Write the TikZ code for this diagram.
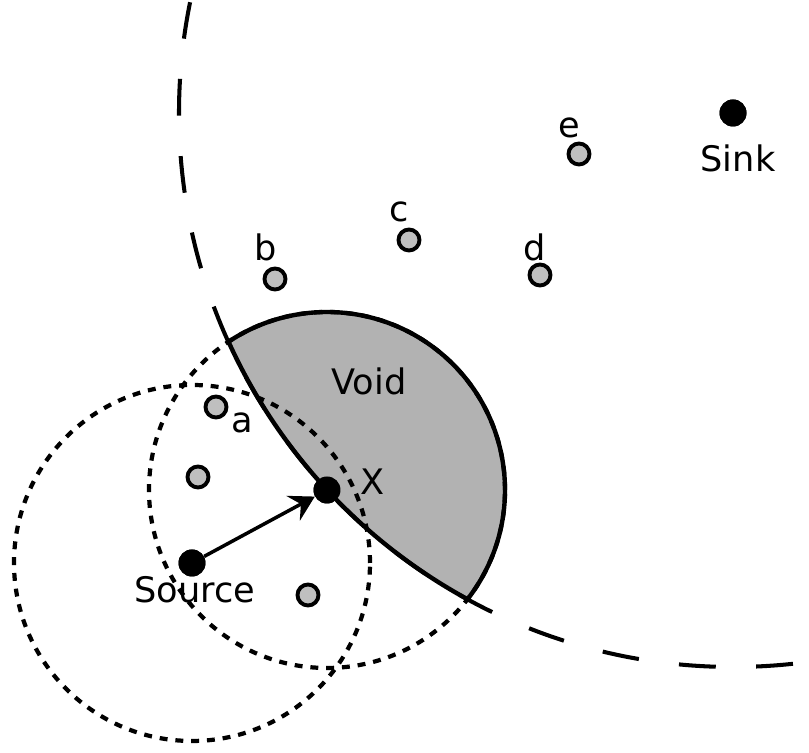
\documentclass[tikz,border=0pt]{standalone}
\usepackage{fontspec}
\setmainfont{DejaVu Sans}
\usetikzlibrary{arrows.meta}

\begin{document}
\begin{tikzpicture}[x=0.02cm,y=0.02cm,
  hop/.style={circle,draw,fill=black!25,line width=2.2pt,minimum size=0.42cm,inner sep=0pt},
  dot/.style={circle,fill=black,minimum size=0.54cm,inner sep=0pt},
  lbl/.style={font=\fontsize{20}{24}\selectfont,inner sep=0pt},
  txrange/.style={line width=2.4pt,dash pattern=on 4.5pt off 4.5pt},
  arr/.style={-{Stealth[length=14pt,width=16pt,inset=5pt]},line width=2pt}]
\useasboundingbox (0,0) rectangle (809,753);
% forwarding node, source and sink
\node[dot] (src) at (192,190) {};
\node[dot] (X) at (327,263) {};
\node[dot] (sink) at (733,640) {};
% void: part of the range of X nearer to the sink than X
\fill[black!30] (X.center) ++(-37.9:178) arc[start angle=-37.9,end angle=123.6,radius=178]
  arc[start angle=204.38,end angle=241.37,radius=554] -- cycle;
\draw[txrange] (src.center) circle[radius=178];
\draw[txrange] (X.center) circle[radius=178];
\draw[line width=2.5pt] (X.center) ++(-37.9:178) arc[start angle=-37.9,end angle=123.6,radius=178]
  arc[start angle=204.38,end angle=241.37,radius=554];
\begin{scope}
  \clip (0,0) rectangle (809,753);
  \draw[line width=2.3pt,dash pattern=on 21pt off 23pt,dash phase=40.7pt] (sink.center) circle[radius=554];
\end{scope}
% neighbours
\node[hop] (a) at (216,346) {};
\node[hop] (n1) at (198,276) {};
\node[hop] (n2) at (308,158) {};
\node[hop] (b) at (275,474) {};
\node[hop] (c) at (409,513) {};
\node[hop] (d) at (540,478) {};
\node[hop] (e) at (579,599) {};
\node[dot] at (src) {};
\node[dot] at (X) {};
\node[dot] at (sink) {};
\draw[arr] (src) -- (X);
% labels
\node[lbl] (srclbl) at (195,163) {Source};
\node[lbl] (xlbl) at (373,271) {X};
\node[lbl] (sinklbl) at (738,595) {Sink};
\node[lbl] (voidlbl) at (369,372) {Void};
\node[lbl] (albl) at (242,330) {a};
\node[lbl] (blbl) at (266,506) {b};
\node[lbl] (clbl) at (399,541) {c};
\node[lbl] (dlbl) at (535,506) {d};
\node[lbl] (elbl) at (569,625) {e};
\end{tikzpicture}
\end{document}
